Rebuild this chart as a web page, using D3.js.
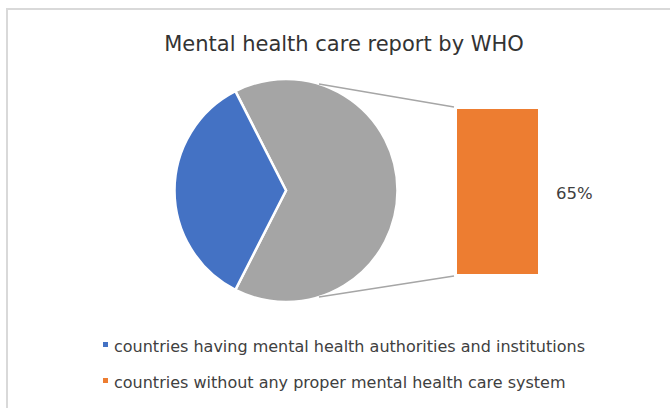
<!DOCTYPE html>
<html>
<head>
<meta charset="utf-8">
<script src="https://cdn.jsdelivr.net/npm/d3@7"></script>
<style>
  body { margin: 0; background: #fff; }
  svg text { font-family: "DejaVu Sans", sans-serif; }
</style>
</head>
<body>
<div id="chart"></div>
<script>
const title = "Mental health care report by WHO";
const categories = [
  "countries having mental health authorities and institutions",
  "countries without any proper mental health care system"
];
const pieValues = [35, 65];           // blue slice, gray "other" slice
const barValues = [65];               // the split-out bar
const barLabels = ["65%"];
const colors = ["#4472c4", "#ed7d31"];
const otherColor = "#a5a5a5";

const W = 670, H = 408;
const svg = d3.select("#chart").append("svg")
  .attr("width", W).attr("height", H);

// Chart border
svg.append("rect")
  .attr("x", 7).attr("y", 9)
  .attr("width", 700).attr("height", 420)
  .attr("fill", "#fff")
  .attr("stroke", "#d9d9d9").attr("stroke-width", 2);

// Title
svg.append("text")
  .attr("x", 344).attr("y", 51)
  .attr("text-anchor", "middle")
  .attr("font-size", 21)
  .attr("fill", "#333")
  .text(title);

// Pie
const cx = 286, cy = 190.5, r = 111.5;
const pieData = [
  { key: "other", value: pieValues[1], color: otherColor },
  { key: "main", value: pieValues[0], color: colors[0] }
];
const otherFrac = pieValues[1] / d3.sum(pieValues);
const start = Math.PI / 2 - otherFrac * Math.PI;
const pie = d3.pie().sort(null).value(d => d.value)
  .startAngle(start).endAngle(start + 2 * Math.PI);
const arc = d3.arc().innerRadius(0).outerRadius(r);

const g = svg.append("g").attr("transform", `translate(${cx},${cy})`);
g.selectAll("path")
  .data(pie(pieData))
  .join("path")
  .attr("d", arc)
  .attr("fill", d => d.data.color)
  .attr("stroke", "#fff")
  .attr("stroke-width", 2.5)
  .attr("stroke-linejoin", "miter");

// Bar
const x = d3.scaleBand().domain(barLabels).range([457, 538]).padding(0);
const y = d3.scaleLinear().domain([0, d3.sum(barValues)]).range([274, 109]);

svg.selectAll("rect.bar")
  .data(barValues)
  .join("rect")
  .attr("class", "bar")
  .attr("x", (d, i) => x(barLabels[i]))
  .attr("y", d => y(d))
  .attr("width", x.bandwidth())
  .attr("height", d => y(0) - y(d))
  .attr("fill", colors[1]);

// Connector lines
const a = 0.30;
const gap = 3;
const conn = [
  [[cx + r * Math.sin(a), cy - r * Math.cos(a)], [x(barLabels[0]) - gap, y(barValues[0]) - 2]],
  [[cx + r * Math.sin(a), cy + r * Math.cos(a)], [x(barLabels[0]) - gap, y(0) + 2]]
];
svg.selectAll("line.conn")
  .data(conn)
  .join("line")
  .attr("class", "conn")
  .attr("x1", d => d[0][0]).attr("y1", d => d[0][1])
  .attr("x2", d => d[1][0]).attr("y2", d => d[1][1])
  .attr("stroke", "#a6a6a6")
  .attr("stroke-width", 1.5);

// Bar label
svg.append("text")
  .attr("x", 556).attr("y", 199)
  .attr("font-size", 16.5)
  .attr("fill", "#404040")
  .text(barLabels[0]);

// Legend
const leg = svg.selectAll("g.leg")
  .data(categories)
  .join("g")
  .attr("class", "leg")
  .attr("transform", (d, i) => `translate(103,${342 + i * 36})`);
leg.append("rect")
  .attr("width", 5).attr("height", 5)
  .attr("fill", (d, i) => colors[i]);
leg.append("text")
  .attr("x", 11).attr("y", 10)
  .attr("font-size", 16)
  .attr("fill", "#404040")
  .text(d => d);
</script>
</body>
</html>
